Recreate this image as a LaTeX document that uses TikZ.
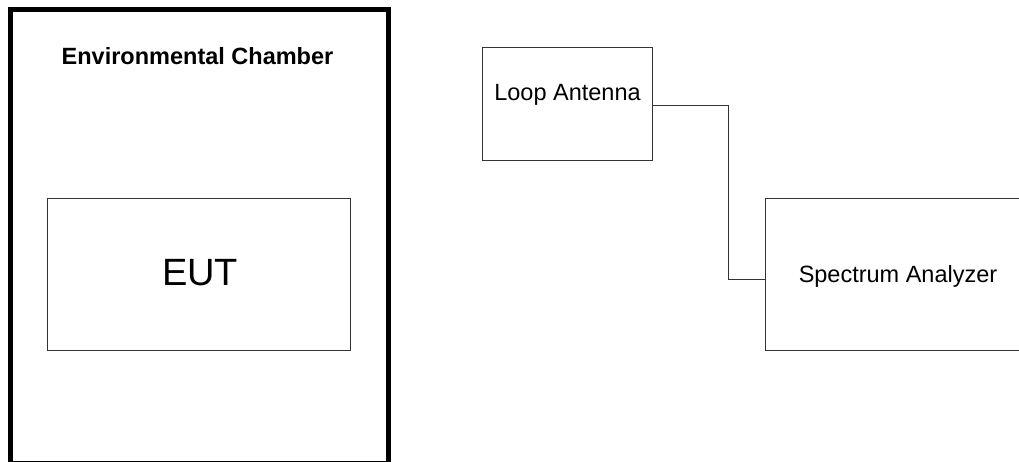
\documentclass[tikz,border=0pt]{standalone}
\usepackage{fontspec}
\setmainfont{Liberation Sans}
\begin{document}
\begin{tikzpicture}[x=1pt,y=-1pt,
  thinbox/.style={draw=black!80,line width=1pt,rectangle,inner sep=0pt,outer sep=0pt},
  lbl/.style={inner sep=0pt,font=\fontsize{23.5}{28}\selectfont},
  wire/.style={draw=black!80,line width=1pt}]
\useasboundingbox (0,0) rectangle (1019,461);
\clip (0,0) rectangle (1019,461);
\node[draw=black,line width=5pt,rectangle,inner sep=0pt,outer sep=0pt,
      minimum width=378pt,minimum height=454.2pt] (chamber) at (199,236.6) {};
\node[lbl,font=\fontsize{23.5}{28}\selectfont\bfseries,anchor=base] (title) at (197.5,64) {Environmental Chamber};
\node[thinbox,minimum width=303.5pt,minimum height=152pt] (eut) at (199,274) {};
\node[inner sep=0pt,anchor=base,font=\fontsize{38}{44}\selectfont] (eutlbl) at (200,285) {EUT};
\node[thinbox,minimum width=170.4pt,minimum height=113pt] (loop) at (567.5,104.2) {};
\node[lbl,anchor=base] (looplbl) at (567.5,100) {Loop Antenna};
\node[thinbox,minimum width=265pt,minimum height=151.5pt] (sa) at (898,274.25) {};
\node[lbl,anchor=base] (salbl) at (898,282) {Spectrum Analyzer};
\coordinate (bend) at (728.3,0);
\coordinate (la) at ([yshift=-1.5pt]loop.east);
\coordinate (sb) at ([yshift=-5pt]sa.west);
\draw[wire] (la) -| (bend |- sb) -- (sb);
\end{tikzpicture}
\end{document}
